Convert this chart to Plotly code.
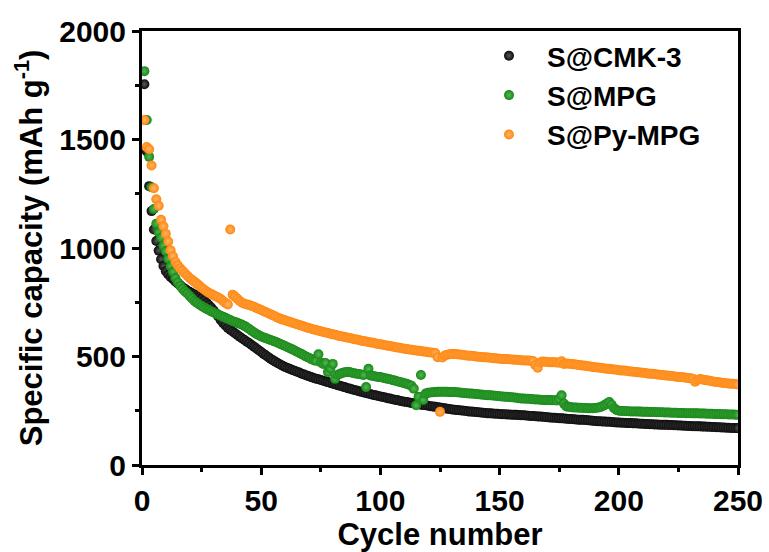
import plotly.graph_objects as go

cycles = list(range(1, 251))

cmk3 = [
    1755, 1445, 1285, 1170, 1085, 1032, 988, 948, 917, 893,
    878, 866, 857, 846, 837, 829, 819, 812, 804, 798,
    791, 786, 781, 774, 767, 758, 747, 737, 726, 713,
    699, 684, 668, 655, 643, 632, 623, 615, 607, 599,
    591, 583, 576, 568, 561, 553, 545, 537, 529, 521,
    512, 505, 497, 489, 482, 476, 469, 463, 457, 452,
    447, 443, 438, 434, 430, 426, 421, 417, 413, 409,
    405, 401, 398, 395, 392, 388, 385, 382, 378, 375,
    372, 368, 365, 362, 359, 355, 352, 349, 346, 343,
    340, 337, 334, 332, 329, 326, 323, 321, 318, 316,
    313, 311, 308, 306, 303, 301, 299, 296, 294, 292,
    290, 288, 286, 284, 282, 280, 278, 276, 275, 273,
    271, 270, 268, 266, 265, 263, 261, 259, 258, 256,
    255, 253, 252, 251, 250, 249, 247, 246, 245, 244,
    243, 242, 241, 240, 238, 238, 237, 236, 236, 235,
    234, 234, 233, 233, 232, 231, 231, 230, 229, 229,
    228, 227, 226, 226, 225, 224, 223, 222, 221, 220,
    219, 218, 218, 217, 216, 215, 214, 213, 212, 212,
    211, 210, 209, 208, 208, 207, 206, 205, 204, 203,
    202, 202, 201, 200, 199, 199, 198, 197, 196, 196,
    195, 195, 194, 193, 193, 192, 192, 191, 190, 190,
    189, 189, 188, 188, 187, 187, 186, 186, 185, 185,
    184, 184, 183, 183, 182, 182, 181, 181, 180, 180,
    179, 179, 178, 178, 177, 177, 176, 176, 175, 175,
    174, 174, 173, 173, 172, 172, 171, 171, 170, 170,
]

mpg = [
    1815, 1590, 1420, 1280, 1180, 1112, 1072, 1048, 1010, 985,
    950, 916, 890, 862, 842, 826, 812, 800, 790, 779,
    767, 756, 748, 740, 733, 726, 720, 714, 708, 703,
    698, 693, 688, 683, 678, 673, 668, 663, 659, 655,
    651, 646, 641, 634, 627, 619, 611, 604, 598, 592,
    588, 584, 580, 576, 572, 568, 563, 558, 553, 548,
    543, 538, 533, 528, 522, 516, 511, 505, 499, 494,
    488, 483, 480, 510, 472, 466, 470, 428, 445, 466,
    397, 415, 420, 424, 427, 429, 428, 425, 423, 421,
    419, 417, 415, 359, 443, 412, 410, 408, 406, 405,
    402, 400, 397, 395, 392, 389, 386, 383, 380, 377,
    374, 370, 365, 352, 275, 314, 415, 300, 329, 333,
    334, 335, 336, 337, 337, 338, 337, 337, 336, 336,
    336, 335, 334, 333, 332, 331, 330, 329, 328, 327,
    326, 325, 324, 323, 322, 321, 320, 319, 318, 317,
    316, 315, 314, 313, 312, 311, 310, 308, 307, 306,
    305, 305, 304, 303, 302, 302, 301, 300, 300, 299,
    299, 298, 298, 297, 305, 321, 283, 270, 268, 266,
    265, 265, 264, 264, 263, 263, 262, 262, 262, 263,
    264, 266, 270, 276, 283, 290, 278, 262, 254, 250,
    249, 249, 248, 248, 247, 247, 247, 246, 246, 245,
    245, 245, 244, 244, 244, 243, 243, 243, 242, 242,
    242, 241, 241, 241, 240, 240, 240, 239, 239, 239,
    238, 238, 238, 237, 237, 237, 236, 236, 236, 235,
    235, 235, 234, 234, 234, 233, 233, 233, 232, 232,
]

py_mpg = [
    1590, 1465, 1455, 1380, 1275, 1225, 1195, 1130, 1100, 1065,
    1030, 990, 962, 937, 920, 906, 895, 884, 872, 862,
    853, 845, 836, 827, 817, 809, 801, 794, 788, 782,
    777, 772, 765, 756, 747, 740, 1085, 785, 776, 766,
    756, 748, 743, 740, 737, 733, 729, 724, 719, 714,
    709, 704, 699, 694, 689, 684, 679, 674, 670, 667,
    663, 660, 656, 652, 649, 645, 642, 638, 634, 631,
    628, 625, 622, 619, 616, 613, 611, 608, 605, 602,
    600, 597, 594, 592, 590, 588, 585, 583, 580, 578,
    576, 573, 571, 569, 567, 565, 563, 560, 558, 556,
    554, 552, 550, 548, 546, 544, 542, 540, 538, 536,
    534, 532, 531, 529, 528, 526, 525, 523, 522, 520,
    519, 517, 516, 497, 245, 495, 505, 508, 510, 511,
    511, 510, 509, 508, 507, 505, 504, 503, 502, 500,
    499, 498, 497, 496, 495, 494, 493, 492, 491, 490,
    489, 488, 488, 487, 486, 485, 485, 484, 483, 482,
    482, 481, 480, 479, 460, 448, 472, 477, 476, 475,
    474, 474, 473, 472, 471, 478, 466, 468, 467, 466,
    464, 463, 461, 460, 458, 457, 455, 454, 452, 451,
    449, 448, 447, 445, 444, 443, 441, 440, 439, 437,
    436, 435, 434, 432, 431, 430, 429, 427, 426, 425,
    424, 422, 421, 420, 419, 417, 416, 415, 414, 412,
    411, 410, 409, 407, 406, 405, 404, 402, 401, 400,
    398, 384, 392, 396, 394, 392, 390, 388, 386, 384,
    383, 381, 379, 378, 377, 376, 375, 374, 373, 371,
]

series_names = ["S@CMK-3", "S@MPG", "S@Py-MPG"]
series_values = [cmk3, mpg, py_mpg]
series_colors = ["#0a0a0a", "#178817", "#ff870f"]
series_centers = ["#5a5a5a", "#55b855", "#ffb56a"]

FONT = "Liberation Sans, Arial, sans-serif"

fig = go.Figure()
for name, vals, col, cen in zip(series_names, series_values, series_colors, series_centers):
    fig.add_trace(go.Scatter(
        x=cycles, y=vals, mode="markers", name=name,
        marker=dict(size=10, color=col, line=dict(width=0),
                    gradient=dict(type="radial", color=cen)),
    ))

axis_common = dict(
    showline=True, linewidth=3, linecolor="black", mirror=True,
    ticks="outside", ticklen=7, tickwidth=2.5, tickcolor="black",
    showgrid=False, zeroline=False, automargin=False,
    tickfont=dict(family=FONT, size=30, color="black", weight="bold"),
)

fig.update_layout(
    width=769, height=552,
    margin=dict(l=142, r=31, t=31, b=87),
    paper_bgcolor="white", plot_bgcolor="white",
    showlegend=True,
    legend=dict(
        x=0.552, y=1.0, xanchor="left", yanchor="top",
        bgcolor="rgba(0,0,0,0)", borderwidth=0,
        font=dict(family=FONT, size=28, color="black", weight="bold"),
        itemwidth=66, tracegroupgap=0,
    ),
    xaxis=dict(
        range=[0, 250], dtick=50, tick0=0,
        minor=dict(dtick=25, ticks="outside", ticklen=4, tickwidth=2.5, tickcolor="black"),
        title=dict(text="Cycle number", standoff=6,
                   font=dict(family=FONT, size=31, color="black", weight="bold")),
        **axis_common,
    ),
    yaxis=dict(
        range=[0, 2000], dtick=500, tick0=0,
        minor=dict(dtick=250, ticks="outside", ticklen=4, tickwidth=2.5, tickcolor="black"),
        title=dict(text="Specific capacity (mAh g<sup>-1</sup>)", standoff=8,
                   font=dict(family=FONT, size=31, color="black", weight="bold")),
        **axis_common,
    ),
)

fig.write_html("out.html")
